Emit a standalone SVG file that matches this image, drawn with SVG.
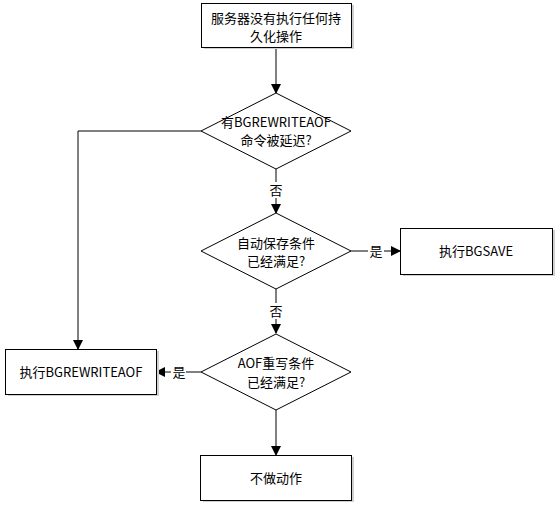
<svg xmlns="http://www.w3.org/2000/svg" width="557" height="508" viewBox="0 0 557 508">
<style>
.box{fill:#fff;stroke:#000;stroke-width:1}
.sh{fill:#d0d0d0;stroke:none}
.t{font-family:"Noto Sans CJK SC","Liberation Sans",sans-serif;font-size:13px;fill:#000;text-anchor:middle}
.c{fill:none;stroke:#000;stroke-width:1}
</style>
<defs>
<marker id="a" markerWidth="10" markerHeight="10" refX="9" refY="5" orient="auto" markerUnits="userSpaceOnUse">
<path d="M0,0 L10,5 L0,10 Z" fill="#000"/>
</marker>
</defs>
<rect width="557" height="508" fill="#fff"/>
<g id="connectors">
<path class="c" d="M276,47 V93" marker-end="url(#a)"/>
<path class="c" d="M201,131 H78 V349" marker-end="url(#a)"/>
<path class="c" d="M276,169 V182"/>
<path class="c" d="M276,198 V213" marker-end="url(#a)"/>
<text class="t" x="276" y="195">否</text>
<path class="c" d="M351,251 H368"/>
<path class="c" d="M384,251 H400" marker-end="url(#a)"/>
<text class="t" x="376" y="256">是</text>
<path class="c" d="M276,289 V303"/>
<path class="c" d="M276,319 V333" marker-end="url(#a)"/>
<text class="t" x="276" y="316">否</text>
<path class="c" d="M201,372 H186"/>
<path class="c" d="M171,372 H156" marker-end="url(#a)"/>
<text class="t" x="179" y="377">是</text>
<path class="c" d="M276,410 V455" marker-end="url(#a)"/>
</g>
<g id="n1">
<rect class="sh" x="204" y="5" width="150" height="44"/>
<rect class="box" x="201.5" y="3.5" width="150" height="44"/>
<text class="t" x="276" y="23">服务器没有执行任何持</text>
<text class="t" x="276" y="41">久化操作</text>
</g>
<g id="n2">
<polygon class="box" points="276,93 351,131 276,169 201,131"/>
<text class="t" x="276" y="127">有BGREWRITEAOF</text>
<text class="t" x="276" y="145">命令被延迟?</text>
</g>
<g id="n3">
<polygon class="box" points="276,213 351,251 276,289 201,251"/>
<text class="t" x="276" y="248">自动保存条件</text>
<text class="t" x="276" y="266">已经满足?</text>
</g>
<g id="n4">
<rect class="sh" x="403" y="230" width="152" height="46"/>
<rect class="box" x="400.5" y="228.5" width="152" height="46"/>
<text class="t" x="476" y="256">执行BGSAVE</text>
</g>
<g id="n5">
<polygon class="box" points="276,334 351,372 276,410 201,372"/>
<text class="t" x="276" y="368">AOF重写条件</text>
<text class="t" x="276" y="387">已经满足?</text>
</g>
<g id="n6">
<rect class="sh" x="8" y="351" width="151" height="45"/>
<rect class="box" x="5.5" y="349.5" width="151" height="45"/>
<text class="t" x="81" y="377">执行BGREWRITEAOF</text>
</g>
<g id="n7">
<rect class="sh" x="203" y="457" width="151" height="45"/>
<rect class="box" x="200.5" y="455.5" width="151" height="45"/>
<text class="t" x="276" y="483">不做动作</text>
</g>
</svg>
